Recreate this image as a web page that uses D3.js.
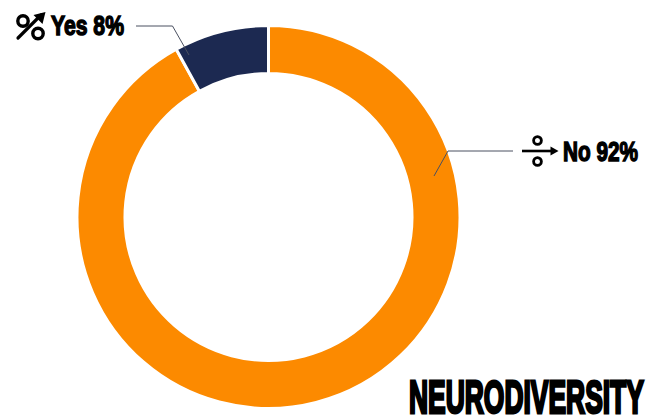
<!DOCTYPE html>
<html><head><meta charset="utf-8">
<script src="https://cdn.jsdelivr.net/npm/d3@7/dist/d3.min.js"></script>
<style>html,body{margin:0;padding:0;background:#fff}svg{display:block}
text{font-family:"Liberation Sans Narrow","Liberation Sans",sans-serif;font-weight:700;fill:#000;stroke:#000;stroke-linejoin:miter}</style>
</head><body><svg id="c" width="657" height="416"></svg>
<script>
const categories=["No","Yes"];
const seriesValues=[92,8];
const sliceColors=["#FC8A00","#1C2951"];
const labelTexts=["No 92%","Yes 8%"];
const titleText="NEURODIVERSITY";

const W=657,H=416,cx=268.5,cy=217,R=191.5,r=143.5;
const svg=d3.select("#c").attr("viewBox",[0,0,W,H]);
const pie=d3.pie().sort(null).value(d=>d)(seriesValues);
const arc=d3.arc().innerRadius(r).outerRadius(R);
const g=svg.append("g").attr("transform",`translate(${cx},${cy})`);
g.selectAll("path").data(pie).join("path")
 .attr("d",arc).attr("fill",(d,i)=>sliceColors[i])
 .attr("stroke","#fff").attr("stroke-width",3);

const line=d3.line();
const leaders=[[[434,176],[448,151],[513,151]],[[189,55],[172.5,26],[136,26]]];
svg.selectAll("path.leader").data(leaders).join("path").attr("class","leader")
 .attr("d",d=>line(d)).attr("fill","none").attr("stroke","#4a5060").attr("stroke-width",1);

function fitText(t,x0,x1,base,size,sw){
  const el=svg.append("text").text(t).attr("font-size",size).style("stroke-width",sw);
  const w=el.node().getComputedTextLength();
  el.attr("transform",`translate(${x0},${base}) scale(${(x1-x0)/w},1)`);
}
fitText(labelTexts[0],563,638,160.5,28.5,1.5);
fitText(labelTexts[1],51,124,35,28.5,1.5);
fitText(titleText,409,644,413,47,3);

// "%" with rising arrow icon
const ic=svg.append("g").attr("fill","none").attr("stroke","#000").attr("stroke-linecap","round");
ic.append("circle").attr("cx",23).attr("cy",21).attr("r",5.2).attr("stroke-width",3.4);
ic.append("circle").attr("cx",38).attr("cy",33.5).attr("r",5.2).attr("stroke-width",3.4);
ic.append("path").attr("d","M18 38L41 15").attr("stroke-width",3.2);
svg.append("path").attr("d","M45.5 12L33.5 15L42.5 24Z").attr("fill","#000");

// divide-with-arrow icon
const id=svg.append("g").attr("fill","none").attr("stroke","#000");
id.append("circle").attr("cx",537.5).attr("cy",140.5).attr("r",3.9).attr("stroke-width",2.8);
id.append("circle").attr("cx",537.5).attr("cy",161.5).attr("r",3.9).attr("stroke-width",2.8);
id.append("path").attr("d","M522 151H552").attr("stroke-width",2.6);
svg.append("path").attr("d","M550.5 146.5L558.5 151L550.5 155.5Z").attr("fill","#000");
</script></body></html>
